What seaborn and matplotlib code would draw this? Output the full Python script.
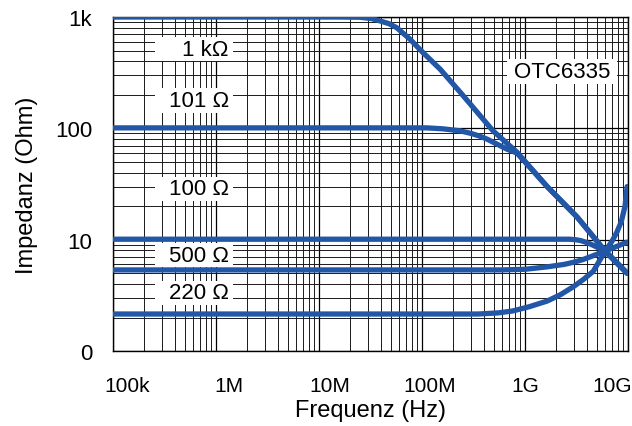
# Impedanz über Frequenz - OTC6335

import pandas as pd
import matplotlib
matplotlib.use("Agg")
import matplotlib.pyplot as plt
import matplotlib.transforms as mtrans
import seaborn as sns
from matplotlib import font_manager
from matplotlib.patches import Rectangle
from matplotlib.ticker import NullFormatter

# Werte (Frequenz in Hz, Impedanz in Ohm)
freq_1k = [1e5, 1.6e7, 2.5e7, 3.2e7, 3.9e7, 4.8e7, 5.7e7, 7.6e7, 1.02e8, 1.5e8, 2.34e8, 4.89e8, 8.36e8, 1.64e9, 3.2e9, 6.0e9, 9.8e9]
z_1k = [1000, 1000, 995, 970, 923, 870, 800, 635, 480, 340, 212, 95, 61, 30, 16, 7.9, 5.0]

freq_101 = [1e5, 1.12e8, 1.6e8, 2.34e8, 3.0e8, 3.65e8, 4.28e8, 5.71e8, 6.68e8, 8.36e8, 1.64e9, 3.2e9, 6.0e9, 9.8e9]
z_101 = [101, 101, 99, 95, 90, 85, 80, 70, 65, 60, 30, 16, 7.9, 5.0]

freq_100 = [1e5, 2.7e9, 3.1e9, 3.5e9, 4.0e9, 4.6e9, 6.0e9, 9.8e9]
z_100 = [10.1, 10.1, 10.0, 9.8, 9.4, 8.9, 7.9, 5.0]

freq_500 = [1e5, 6.0e8, 1.0e9, 1.64e9, 2.4e9, 2.92e9, 3.6e9, 4.28e9, 6.0e9, 9.8e9]
z_500 = [5.35, 5.35, 5.42, 5.7, 6.0, 6.25, 6.6, 7.0, 7.9, 9.5]

freq_220 = [1e5, 3.5e8, 5.5e8, 7.6e8, 1.1e9, 1.64e9, 2.2e9, 2.92e9, 3.7e9, 4.6e9, 6.0e9, 7.0e9, 7.8e9, 8.6e9, 9.35e9, 9.8e9]
z_220 = [2.15, 2.15, 2.2, 2.29, 2.5, 2.81, 3.2, 3.76, 4.4, 5.2, 7.9, 9.7, 11.7, 14.5, 20, 30]

kurven = ["1 kΩ", "101 Ω", "100 Ω", "500 Ω", "220 Ω"]
x_ticks = [1e5, 1e6, 1e7, 1e8, 1e9, 1e10]
x_labels = ["100k", "1M", "10M", "100M", "1G", "10G"]
y_ticks = [1, 10, 100, 1000]
y_labels = ["0", "10", "100", "1k"]

blau = "#2157A6"

sns.set_style("white")
plt.rcParams["font.family"] = ["Liberation Sans", "DejaVu Sans"]
for key in ["text.color", "axes.labelcolor", "xtick.color", "ytick.color"]:
    plt.rcParams[key] = "black"

# schmale Schrift für die x-Achse, falls vorhanden
namen = {f.name for f in font_manager.fontManager.ttflist}
x_font = "Liberation Sans Narrow" if "Liberation Sans Narrow" in namen else "Liberation Sans"
x_size = 16 if x_font == "Liberation Sans Narrow" else 15

fig, ax = plt.subplots(figsize=(6.32, 4.27), dpi=100)
fig.subplots_adjust(left=0.1788, right=0.9937, bottom=0.1756, top=0.9578)

daten = [(freq_1k, z_1k), (freq_101, z_101), (freq_100, z_100), (freq_500, z_500), (freq_220, z_220)]
for name, (f, z) in zip(kurven, daten):
    df = pd.DataFrame({"f": f, "z": z})
    sns.lineplot(data=df, x="f", y="z", ax=ax, color=blau, lw=3.8,
                 estimator=None, sort=False, zorder=4)

ax.set_xscale("log")
ax.set_yscale("log")
ax.set_xlim(1e5, 1e10)
ax.set_ylim(1, 1000)

# Gitter
ax.grid(which="major", color="black", lw=0.9)
ax.grid(which="minor", color="#1a1a1a", lw=0.7)
ax.set_axisbelow(True)
for s in ax.spines.values():
    s.set_color("black")
    s.set_linewidth(1.0)

ax.set_xticks(x_ticks)
ax.set_yticks(y_ticks)
ax.set_yticklabels(y_labels)
ax.xaxis.set_minor_formatter(NullFormatter())
ax.yaxis.set_minor_formatter(NullFormatter())
ax.set_xticklabels(x_labels, fontfamily=x_font, fontsize=x_size)
ax.tick_params(which="both", length=0)
ax.tick_params(axis="x", pad=18)
ax.tick_params(axis="y", pad=15, labelsize=16)

# x-Beschriftungen leicht verschoben wie im Original
versatz = [14, 13, 11, 8, 0, -16]
for lbl, dx in zip(ax.get_xticklabels(), versatz):
    lbl.set_transform(lbl.get_transform() + mtrans.ScaledTranslation(dx / 100, 0, fig.dpi_scale_trans))

ax.set_xlabel("Frequenz (Hz)", fontsize=17, labelpad=3)
ax.set_ylabel("Impedanz (Ohm)", fontsize=17, labelpad=12)

# Beschriftungen mit weissem Hintergrund
label_y = [0.903, 0.750, 0.4865, 0.287, 0.174]
for name, yy in zip(kurven, label_y):
    ax.add_patch(Rectangle((0.0816, yy - 0.036), 0.152, 0.072, transform=ax.transAxes,
                           facecolor="white", edgecolor="none", zorder=3))
    ax.text(0.225, yy, name, transform=ax.transAxes, ha="right", va="center",
            fontsize=16, zorder=5)

ax.add_patch(Rectangle((0.765, 0.799), 0.214, 0.075, transform=ax.transAxes,
                       facecolor="white", edgecolor="none", zorder=3))
ax.text(0.872, 0.837, "OTC6335", transform=ax.transAxes, ha="center", va="center",
        fontsize=16, zorder=5)

fig.savefig("out.png", dpi=100)
